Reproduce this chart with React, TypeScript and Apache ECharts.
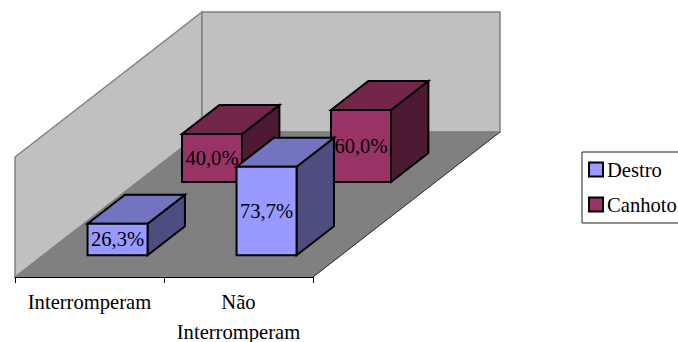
import React, { useEffect, useRef } from "react";
import * as echarts from "echarts";

const categories = ["Interromperam", "Não\nInterromperam"];
const destro = [26.3, 73.7];
const canhoto = [40.0, 60.0];
const FONT = "Liberation Serif";
const FONT_SIZE = 20.6;

// oblique projection of the depth axis, in pixels
const DEPTH_X = 187;
const DEPTH_Y = 145;
const BOX_DEPTH = 0.2;
const BOX_WIDTH = 60;

const fmt = (v: number) => v.toFixed(1).replace(".", ",") + "%";

function boxRenderer(rowFrac: number, front: string, top: string, side: string) {
  return (_params: any, api: any) => {
    const cat = api.value(0);
    const val = api.value(1);
    const base = api.coord([cat, 0]);
    const head = api.coord([cat, val]);
    const ox = DEPTH_X * rowFrac;
    const oy = -DEPTH_Y * rowFrac;
    const l = base[0] + ox - BOX_WIDTH / 2;
    const r = l + BOX_WIDTH;
    const b = base[1] + oy;
    const t = head[1] + oy;
    const dx = DEPTH_X * BOX_DEPTH;
    const dy = DEPTH_Y * BOX_DEPTH;
    const edge = { stroke: "#000", lineWidth: 2, lineJoin: "miter" };
    return {
      type: "group",
      children: [
        { type: "polygon", shape: { points: [[r, b], [r, t], [r + dx, t - dy], [r + dx, b - dy]] }, style: { fill: side, ...edge } },
        { type: "polygon", shape: { points: [[l, t], [r, t], [r + dx, t - dy], [l + dx, t - dy]] }, style: { fill: top, ...edge } },
        { type: "polygon", shape: { points: [[l, b], [r, b], [r, t], [l, t]] }, style: { fill: front, ...edge } },
        {
          type: "text",
          style: {
            text: fmt(val),
            x: (l + r) / 2,
            y: (t + b) / 2,
            align: "center",
            verticalAlign: "middle",
            fill: "#000",
            font: `${FONT_SIZE}px "${FONT}"`,
          },
        },
      ],
    };
  };
}

function roomRenderer(params: any) {
  const { x, y, width, height } = params.coordSys;
  const fl: [number, number] = [x, y + height];
  const fr: [number, number] = [x + width, y + height];
  const bl: [number, number] = [x + DEPTH_X, y + height - DEPTH_Y];
  const br: [number, number] = [x + width + DEPTH_X, y + height - DEPTH_Y];
  const tfl: [number, number] = [x, y];
  const tbl: [number, number] = [x + DEPTH_X, y - DEPTH_Y];
  const tbr: [number, number] = [x + width + DEPTH_X, y - DEPTH_Y];
  const wall = { fill: "#C0C0C0", stroke: "#808080", lineWidth: 1.5 };
  return {
    type: "group",
    children: [
      { type: "polygon", shape: { points: [fl, tfl, tbl, bl] }, style: wall },
      { type: "polygon", shape: { points: [bl, tbl, tbr, br] }, style: wall },
      { type: "polygon", shape: { points: [fl, fr, br, bl] }, style: { fill: "#808080", stroke: "#808080", lineWidth: 1 } },
      { type: "line", shape: { x1: fr[0], y1: fr[1], x2: br[0], y2: br[1] }, style: { stroke: "#333", lineWidth: 1 } },
    ],
  };
}

export default function App() {
  const ref = useRef<HTMLDivElement>(null);
  useEffect(() => {
    const chart = echarts.init(ref.current!, null, { renderer: "svg" });
    const toData = (vals: number[]) => vals.map((v, i) => [i, v]);
    chart.setOption({
      animation: false,
      backgroundColor: "#fff",
      grid: { left: 15, top: 157, width: 298, height: 120, containLabel: false, outerBoundsMode: "none" },
      xAxis: {
        type: "category",
        data: categories,
        axisLine: { show: true, onZero: false, lineStyle: { color: "#000", width: 1 } },
        axisTick: { show: true, length: 6, lineStyle: { color: "#000", width: 1 } },
        axisLabel: {
          interval: 0,
          margin: 10,
          color: "#000",
          fontFamily: FONT,
          fontSize: FONT_SIZE,
          lineHeight: 30,
          hideOverlap: false,
        },
        z: 10,
      },
      yAxis: { type: "value", min: 0, max: 100, show: false, splitLine: { show: false } },
      legend: {
        data: ["Destro", "Canhoto"],
        orient: "vertical",
        left: 582,
        top: 152,
        padding: [7, 20, 8, 6],
        itemWidth: 14,
        itemHeight: 14,
        itemGap: 14,
        backgroundColor: "#fff",
        borderColor: "#222",
        borderWidth: 1,
        borderRadius: 0,
        selectedMode: false,
        icon: "rect",
        itemStyle: { borderColor: "#000", borderWidth: 2 },
        textStyle: { color: "#000", fontFamily: FONT, fontSize: FONT_SIZE, padding: [0, 0, 0, -1] },
      },
      series: [
        { type: "custom", name: "room", z: 1, silent: true, data: [[0, 0]], renderItem: roomRenderer, clip: false },
        {
          type: "custom",
          name: "Canhoto",
          z: 2,
          data: toData(canhoto),
          itemStyle: { color: "#993366" },
          renderItem: boxRenderer(0.655, "#993366", "#732649", "#4D1A33"),
          clip: false,
        },
        {
          type: "custom",
          name: "Destro",
          z: 3,
          data: toData(destro),
          itemStyle: { color: "#9999FF" },
          renderItem: boxRenderer(0.15, "#9999FF", "#7373BF", "#4D4D80"),
          clip: false,
        },
      ],
    });
    return () => chart.dispose();
  }, []);
  return <div ref={ref} style={{ position: "fixed", left: 0, top: 0, width: 678, height: 342 }} />;
}
